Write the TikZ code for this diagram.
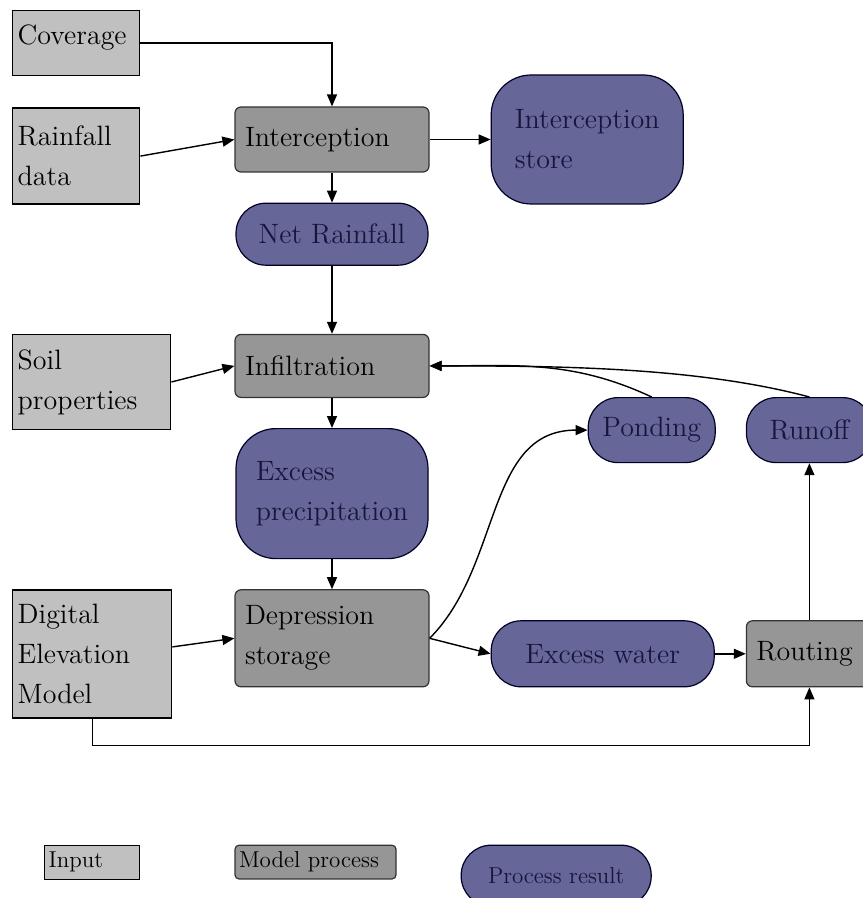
\documentclass[tikz,border=0pt]{standalone}
\usetikzlibrary{arrows.meta,positioning}
\definecolor{inputgray}{RGB}{192,192,192}
\definecolor{processgray}{RGB}{150,150,150}
\definecolor{resultblue}{RGB}{102,102,153}
\definecolor{resultink}{RGB}{22,22,60}
\tikzstyle{dataset}=[
	rectangle,
	draw=black,
	line width=0.7pt,
	fill=inputgray,
	align=left,
	inner xsep=2.5pt,
	font=\fontsize{14}{20}\selectfont
]
\tikzstyle{process}=[
	rectangle,
	rounded corners=3pt,
	draw=black!80,
	line width=0.6pt,
	fill=processgray,
	align=left,
	inner xsep=5pt,
	font=\fontsize{14}{20}\selectfont
]
\tikzstyle{outcome}=[
	rectangle,
	rounded corners=15pt,
	draw=black!85!blue,
	line width=0.6pt,
	fill=resultblue,
	text=resultink,
	align=left,
	font=\fontsize{14}{20}\selectfont
]
\tikzstyle{flow}=[
	-{Triangle[length=6pt,width=5pt]},
	line width=0.7pt
]
\tikzstyle{fedby}=[
	{Triangle[length=6pt,width=5pt]}-,
	line width=0.7pt
]
\tikzstyle{keyentry}=[
	font=\fontsize{11.5}{14}\selectfont,
	inner xsep=2pt
]

\begin{document}
\begin{tikzpicture}
\useasboundingbox (0,0) rectangle (431pt,-449pt);
% inputs, processes and results
\node [dataset, text width=58.5pt, minimum height=32.5pt, text depth=9pt, anchor=north west] (coverage) at (6pt,-5pt) {Coverage};
\node [dataset, text width=58.5pt, minimum height=48pt] (rainfall)[below=15.5pt of coverage.south west, anchor=north west] {Rainfall\\data};
\node [process, text width=87pt, minimum height=32.5pt] (interception)[right=47pt of rainfall.north east, anchor=north west, yshift=0.5pt] {Interception};
\node [outcome, rounded corners=20pt, minimum width=96pt, minimum height=64.5pt] (store)[right=30.5pt of interception] {Interception\\store}
	edge [fedby] (interception);
\node [outcome, minimum width=96pt, minimum height=31pt] (netrain)[below=15pt of interception] {Net Rainfall}
	edge [fedby] (interception);
\node [process, text width=87pt, minimum height=31.5pt] (infil)[below=34pt of netrain] {Infiltration}
	edge [fedby] (netrain);
\node [dataset, text width=74pt, minimum height=47.5pt] (soil)[left=31.5pt of infil.north west, anchor=north east] {Soil\\properties};
\node [outcome, rounded corners=20pt, minimum width=96pt, minimum height=65pt] (excess)[below=15pt of infil] {Excess\\precipitation}
	edge [fedby] (infil);
\node [process, text width=87pt, minimum height=48.5pt] (depress)[below=15pt of excess] {Depression\\storage}
	edge [fedby] (excess);
\node [dataset, text width=74.5pt, minimum height=64pt] (dem)[left=31pt of depress.north west, anchor=north east] {Digital\\Elevation\\Model};
\node [outcome, minimum width=111.5pt, minimum height=33pt] (ewater)[right=30.5pt of depress.south east, anchor=south west] {Excess water};
\node [process, text width=53pt, minimum height=33pt] (routing)[right=15.5pt of ewater] {Routing}
	edge [fedby] (ewater);
\node [outcome, minimum width=63pt, minimum height=32.5pt] (runoff)[above=78.5pt of routing.north west, anchor=south west] {Runoff}
	edge [fedby] (routing);
\node [outcome, minimum width=63.5pt, minimum height=32.5pt] (ponding)[left=15pt of runoff] {Ponding};

% connectors
\draw [flow] (coverage.east) -| (interception.north);
\draw [flow] (rainfall.east) -- (interception.west);
\draw [flow] (soil.east) -- (infil.west);
\draw [flow] ([yshift=3.5pt]dem.east) -- (depress.west);
\draw [flow] (depress.east) -- (ewater.west);
\draw [flow] (depress.east) to [out=45, in=180] (ponding.west);
\draw [flow] (ponding.north) to [out=155, in=0] (infil.east);
\draw [flow] (runoff.north) to [out=165, in=0, looseness=0.8] (infil.east);
\draw [flow] (dem.south) -- ++(0,-13.5pt) -| (routing.south);

% legend
\node [dataset, keyentry, text width=43.5pt, minimum height=17pt] (inputkey)[below=63pt of dem] {Input};
\node [process, keyentry, rounded corners=2pt, text width=76.5pt, minimum height=16.5pt] (processkey)[right=47pt of inputkey.north east, anchor=north west] {Model process};
\node [outcome, keyentry, minimum width=95pt, minimum height=30.5pt] (resultkey)[right=32pt of processkey.north east, anchor=north west] {Process result};
\end{tikzpicture}
\end{document}
